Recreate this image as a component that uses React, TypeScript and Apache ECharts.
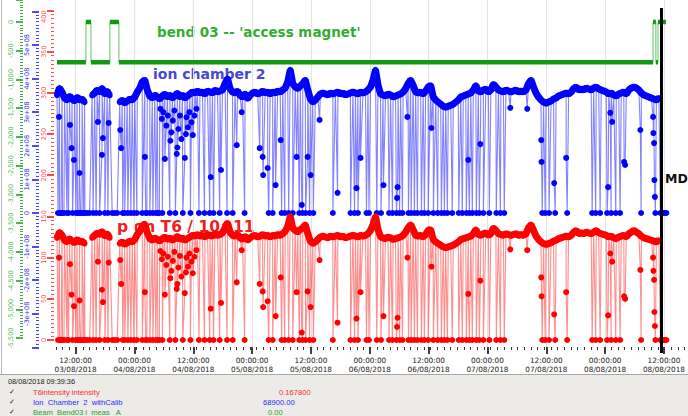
import React, { useEffect, useRef } from 'react';
import * as echarts from 'echarts';

// ---------- time axis (hours since 03/08/2018 00:00) ----------
const X_MIN_H = 8;
const X_MAX_H = 134;
const MINOR_TICK_H = 4 / 3;
const hourCategories: string[] = [];
for (let h = X_MIN_H; h <= X_MAX_H; h++) hourCategories.push(String(h));

// regular logger sampling of the beam band
const BAND_START_H = 8.2;
const BAND_STEP_H = 0.5;

// ion chamber 2 (units of 1e+08)
const ionChamberBand = [
  3.51, 3.72, 3.6, 3.42, 3.36, 3.48, 3.39, 3.33, 3.45, 3.36, 3.39, 3.3,
  0, 0,
  3.5, 3.57, 3.66, 3.6, 3.72, 3.54, 3.63, 3.5,
  0, 0, 0,
  3.3, 3.36, 3.27, 3.33, 3.39, 3.36, 3.45, 3.6, 3.72, 3.9, 3.96, 3.66,
  3.48, 3.42, 3.51, 3.45, 3.39, 3.48, 3.54, 3.45, 3.51, 3.42, 3.48, 3.57, 3.45, 3.51, 3.42, 3.48,
  3.54, 3.6, 3.57, 3.63, 3.57, 3.6, 3.54, 3.63, 3.6, 3.57, 3.66, 3.6, 3.63,
  3.66, 3.85, 4.0, 3.7,
  3.6, 3.57, 3.63, 3.5, 3.45, 3.55, 3.4, 3.5,
  3.57, 3.6, 3.54, 3.57, 3.63, 3.57, 3.6, 3.54, 3.6, 3.57, 3.63, 3.6, 3.66, 3.72,
  3.9, 4.26, 3.85,
  3.75, 3.7, 3.78, 3.85, 3.96,
  3.66, 3.4, 3.3, 3.36, 3.45,
  3.54, 3.57, 3.54, 3.51, 3.57, 3.54, 3.57, 3.6, 3.54, 3.57, 3.51, 3.54, 3.57, 3.6, 3.57, 3.54, 3.6, 3.57, 3.6, 3.66, 3.75,
  3.95, 4.26, 3.8,
  3.54, 3.51, 3.48, 3.54, 3.51, 3.45, 3.48, 3.51, 3.54, 3.6,
  3.7, 3.85, 3.96, 3.8, 3.6,
  3.57, 3.6, 3.54, 3.63, 3.75, 3.8,
  3.45, 3.36, 3.3, 3.24, 3.18, 3.15, 3.18, 3.21, 3.24, 3.3, 3.36,
  3.45, 3.48, 3.51, 3.54, 3.57,
  3.66, 3.8, 3.63, 3.6, 3.66, 3.69, 3.6, 3.66, 3.84, 3.75, 3.66,
  3.63, 3.6, 3.66, 3.63, 3.6, 3.63, 3.66, 3.6, 3.63, 3.6, 3.66,
  3.85, 3.96, 3.75,
  3.57, 3.45, 3.36, 3.3, 3.27, 3.3, 3.33, 3.39, 3.42, 3.48,
  3.51, 3.54, 3.57, 3.54, 3.6,
  3.7, 3.75, 3.66, 3.69,
  3.66, 3.72, 3.69, 3.66, 3.72, 3.75, 3.69, 3.66, 3.63,
  3.6, 3.54, 3.57, 3.51, 3.48, 3.54, 3.57, 3.6, 3.54,
  3.66, 3.72, 3.75, 3.72, 3.66,
  3.57, 3.51, 3.48, 3.45, 3.42, 3.39, 3.36, 3.42,
  0, 0, 0,
];

// p on T6 / 10^11
const pOnT6Band = [
  124, 131, 127, 121, 119, 123, 120, 118, 122, 119, 120, 117,
  0, 0,
  124, 127, 130, 128, 132, 126, 129, 124,
  0, 0, 0,
  117, 119, 116, 118, 120, 119, 122, 128, 132, 138, 141, 130,
  123, 121, 124, 122, 120, 123, 125, 122, 124, 121, 123, 126, 122, 124, 121, 123,
  125, 127, 126, 128, 126, 127, 125, 128, 127, 126, 129, 127, 128,
  130, 136, 142, 131,
  127, 126, 128, 124, 122, 126, 121, 124,
  126, 127, 125, 126, 128, 126, 127, 125, 127, 126, 128, 127, 129, 132,
  138, 150, 136,
  133, 131, 134, 136, 140,
  129, 120, 117, 119, 122,
  125, 126, 125, 124, 126, 125, 126, 127, 125, 126, 124, 125, 126, 127, 126, 125, 127, 126, 127, 129, 133,
  140, 150, 134,
  125, 124, 123, 125, 124, 122, 123, 124, 125, 127,
  131, 136, 140, 134, 127,
  126, 127, 125, 128, 133, 134,
  122, 119, 117, 115, 113, 112, 113, 114, 115, 117, 119,
  122, 123, 124, 125, 126,
  129, 134, 128, 127, 129, 130, 127, 129, 136, 133, 129,
  128, 127, 129, 128, 127, 128, 129, 127, 128, 127, 129,
  136, 140, 133,
  126, 122, 119, 117, 116, 117, 118, 120, 121, 123,
  124, 125, 126, 125, 127,
  131, 133, 129, 130,
  129, 131, 130, 129, 131, 133, 130, 129, 128,
  127, 125, 126, 124, 123, 125, 126, 127, 125,
  129, 131, 133, 131, 129,
  126, 124, 123, 122, 121, 120, 119, 121,
  0, 0, 0,
];

// times (h) where the beam dropped to zero
const beamOffTimes = [
  8.4, 8.7, 9.0, 9.3, 9.59, 10.19, 10.5, 11.3, 11.98, 12.3, 12.58, 12.9, 13.18, 13.5, 13.77,
  15.4, 16.0, 16.7, 17.75, 18.35, 21.3, 21.7, 22.33, 22.93, 23.53, 24.12, 25.2, 25.9,
  26.11, 26.71, 27.31, 27.9, 28.3, 28.6, 29.2, 30.69, 31.8, 33.28, 34.8, 36.5, 37.6, 38.65,
  39.4, 40.64, 42.1, 43.23, 45.6, 50.4, 51.2, 52.98, 53.6, 54.38, 55.2, 56.5,
  57.16, 57.76, 58.56, 59.3, 63.2, 66.72, 67.52, 68.2, 69.9, 70.4, 71.95, 72.8, 74.4, 75.08,
  75.87, 76.5, 77.07, 78.26, 78.8, 79.46, 80.06, 80.85, 81.45, 82.2, 83.24, 84.1, 84.83, 85.43,
  86.03, 87.0, 88.3, 89.01, 89.81, 90.41, 91.0, 91.8, 92.4, 93.2, 94.39, 95.78, 96.6, 97.37,
  104.94, 105.53, 106.3, 107.52, 109.91, 114.89, 115.6, 116.48, 117.87, 118.67, 119.6, 120.46,
  124.65, 127.5, 128.5, 128.9, 129.4,
];

// partial drops [h, value]
const ionChamberDrops = [
  [8.6, 2.86], [10.79, 2.62], [11.1, 1.93], [11.58, 1.58], [12.7, 1.19], [16.36, 2.71],
  [17.16, 1.73], [17.36, 2.23], [18.5, 2.68], [20.8, 2.47], [21.0, 1.93], [25.72, 1.67],
  [28.8, 3.1], [29.1, 2.8], [29.4, 3.0], [29.7, 1.61], [30.0, 2.6], [30.3, 2.9], [30.8, 2.15],
  [31.0, 2.4], [31.3, 2.75], [31.6, 3.05], [32.08, 1.76], [32.2, 1.95], [32.4, 2.5], [32.7, 2.9],
  [33.0, 2.2], [33.68, 1.64], [33.9, 2.35], [34.0, 2.85], [34.3, 2.55], [34.6, 3.0], [35.0, 2.7],
  [35.27, 2.32], [35.6, 2.9], [36.0, 3.1], [38.85, 1.07], [40.9, 1.28], [44.03, 2.02], [45.02, 3.0],
  [48.61, 1.93], [49.2, 1.67], [49.3, 1.13], [50.2, 1.34], [51.79, 0.83], [52.8, 2.17],
  [55.97, 1.67], [57.0, 0.24], [58.16, 1.67], [58.76, 1.13], [60.55, 2.77], [64.13, 0.6],
  [67.91, 0.74], [68.71, 1.64], [73.29, 0.83], [76.0, 0.45], [76.1, 0.77], [78.06, 2.86],
  [82.84, 2.53], [90.2, 1.58], [92.6, 2.05], [98.57, 3.13], [101.95, 3.1], [104.74, 2.17],
  [104.8, 1.52], [107.32, 0.89], [109.71, 1.64], [118.07, 0.77], [118.5, 2.98], [118.87, 2.71],
  [121.26, 1.52], [121.46, 1.43], [124.5, 2.47], [127.04, 2.86], [127.1, 2.38], [127.23, 2.08],
  [127.3, 0.98], [127.4, 0.48],
];

const pOnT6Drops = [
  [8.6, 100], [10.79, 92], [11.1, 55], [11.58, 41], [12.7, 48], [16.36, 95],
  [17.16, 61], [17.36, 46], [18.5, 94], [20.8, 97], [21.0, 68], [25.72, 58],
  [28.8, 108], [29.1, 98], [29.4, 105], [29.7, 55], [30.0, 91], [30.3, 101], [30.8, 75],
  [31.0, 84], [31.3, 96], [31.6, 107], [32.08, 62], [32.2, 68], [32.4, 88], [32.7, 102],
  [33.0, 77], [33.68, 57], [33.9, 82], [34.0, 100], [34.3, 89], [34.6, 105], [35.0, 95],
  [35.27, 81], [35.6, 101], [36.0, 109], [38.85, 38], [40.9, 45], [44.03, 70], [45.02, 109],
  [48.61, 68], [49.2, 59], [49.3, 40], [50.2, 47], [51.79, 29], [52.8, 76],
  [55.97, 58], [57.0, 9], [58.16, 59], [58.76, 40], [60.55, 97], [64.13, 21],
  [67.91, 26], [68.71, 58], [73.29, 29], [76.0, 16], [76.1, 27], [78.06, 100],
  [82.84, 89], [90.2, 56], [92.6, 72], [98.57, 110], [101.95, 109], [104.74, 76],
  [104.8, 53], [107.32, 31], [109.71, 58], [118.07, 30], [118.5, 105], [118.87, 95],
  [121.26, 53], [121.46, 50], [124.5, 85], [127.04, 100], [127.1, 84], [127.23, 73],
  [127.3, 34], [127.4, 17],
];

// bend 03 'access magnet' current
const bend03Points = [
  [8.2, -700], [13.97, -700], [13.97, 0], [14.97, 0], [14.97, -700], [18.75, -700],
  [18.75, 0], [20.54, 0], [20.54, -700], [127.03, -700], [127.03, 0], [127.6, 0],
  [127.6, -700], [128.02, -700], [128.02, 0], [129.62, 0],
];

const MD_HOUR = 128.7;

// axis ranges
const GREEN_MIN = -5500, GREEN_MAX = 383, GREEN_STEP = 500;
const BLUE_MIN = -4, BLUE_MAX = 6, BLUE_STEP = 1;
const RED_MIN = 0, RED_MAX = 400, RED_STEP = 50;

// cursor read-out panel
const cursorTime = '08/08/2018 09:39:36';
const legendNames = ['T6intensity intensity', 'Ion  Chamber  2  withCalib', 'Beam_Bend03 i_meas   A'];
const legendValues = ['0.167800', '68900.00', '0.00'];
const legendColors = ['#ff2a2a', '#2a2aff', '#2aa02a'];
const legendValueX = [279, 263, 268];

function buildSeries(band: number[], drops: number[][]) {
  const pts: number[][] = band.map((v, i) => [BAND_START_H + i * BAND_STEP_H, v]);
  beamOffTimes.forEach((t) => pts.push([t, 0]));
  drops.forEach((p) => pts.push([p[0], p[1]]));
  return pts.sort((a, b) => a[0] - b[0]);
}

function bandOnly(band: number[]) {
  return band.map((v, i) => [BAND_START_H + i * BAND_STEP_H, v === 0 ? '-' : v]);
}

function flatSegments(points: number[][]) {
  const out: any[] = [];
  for (let i = 0; i < points.length; i++) {
    out.push(points[i]);
    const n = points[i + 1];
    if (n && n[1] !== points[i][1]) out.push([points[i][0], '-']);
  }
  return out;
}

const pad = (n: number) => (n < 10 ? '0' + n : String(n));
const isMajor = (_i: number, v: any) => Number(v) % 12 === 0;

const GL = 56, GW = 633;

export default function App() {
  const ref = useRef<HTMLDivElement>(null);
  useEffect(() => {
    document.body.style.margin = '0';
    const chart = echarts.init(ref.current!, undefined, { renderer: 'svg' });
    const hiddenX = (g: number) => ({ type: 'value', gridIndex: g, min: X_MIN_H, max: X_MAX_H, show: false });
    const hiddenY = (g: number) => ({ type: 'value', gridIndex: g, min: 0, max: 1, show: false });
    const ionData = buildSeries(ionChamberBand, ionChamberDrops);
    const pData = buildSeries(pOnT6Band, pOnT6Drops);
    const option: any = {
      animation: false,
      textStyle: { fontFamily: 'DejaVu Sans' },
      grid: [
        { left: GL, width: GW, top: 0, height: 347 },
        { left: GL, width: GW, top: 0, height: 347 },
        { left: GL, width: GW, top: 0, height: 338 },
        { left: GL, width: GW, top: 11.4, height: 336 },
        { left: GL, width: GW, top: 10.4, height: 329.6 },
        { left: GL, width: GW, top: 8, height: 345 },
      ],
      xAxis: [
        {
          type: 'category', gridIndex: 0, data: hourCategories, boundaryGap: false,
          axisLine: { show: false },
          axisTick: { show: true, interval: isMajor, length: 7, lineStyle: { color: '#000', width: 1.5 } },
          axisLabel: {
            interval: isMajor, fontSize: 7.3, color: '#1a1a1a', lineHeight: 9, margin: 9,
            formatter: (v: string) => {
              const h = Number(v);
              return `${pad(h % 24)}:00:00\n${pad(3 + Math.floor(h / 24))}/08/2018`;
            },
          },
          splitLine: { show: true, interval: isMajor, lineStyle: { color: '#e3e3e3', width: 1 } },
        },
        {
          type: 'value', gridIndex: 1, min: X_MIN_H, max: X_MAX_H, interval: MINOR_TICK_H,
          axisLine: { show: false },
          axisTick: { show: true, length: 3, lineStyle: { color: '#333', width: 1 } },
          axisLabel: { show: false }, splitLine: { show: false },
        },
        hiddenX(2), hiddenX(3), hiddenX(4), hiddenX(5),
      ],
      yAxis: [
        hiddenY(0), hiddenY(1),
        {
          type: 'value', gridIndex: 2, position: 'left', offset: 33,
          min: GREEN_MIN, max: GREEN_MAX, interval: GREEN_STEP,
          axisLine: { show: false },
          axisTick: { show: true, length: 7, lineStyle: { color: '#169a16', width: 1.5 } },
          minorTick: { show: true, splitNumber: 10, length: 3, lineStyle: { color: '#40ad40' } },
          axisLabel: { rotate: 90, fontSize: 6.5, color: '#4cb84c', margin: 9, showMaxLabel: false },
          splitLine: { show: false },
        },
        {
          type: 'value', gridIndex: 3, position: 'left', offset: 17,
          min: BLUE_MIN, max: BLUE_MAX, interval: BLUE_STEP,
          axisLine: { show: false },
          axisTick: { show: true, length: 7, lineStyle: { color: '#1010ee', width: 1.5 } },
          minorTick: { show: true, splitNumber: 10, length: 3, lineStyle: { color: '#4040ff' } },
          axisLabel: {
            rotate: 90, fontSize: 6.5, color: '#2a2aff', margin: 8.5, showMaxLabel: false,
            alignMinLabel: 'left',
            formatter: (v: number) => (v === 0 ? '0' : `${v}e+08`),
          },
          splitLine: { show: false },
        },
        {
          type: 'value', gridIndex: 4, position: 'left', offset: 2,
          min: RED_MIN, max: RED_MAX, interval: RED_STEP,
          axisLine: { show: false },
          axisTick: { show: true, length: 7, lineStyle: { color: '#ee1010', width: 1.5 } },
          minorTick: { show: true, splitNumber: 10, length: 3, lineStyle: { color: '#ff5050' } },
          axisLabel: { rotate: 90, fontSize: 6.5, color: '#ff4a4a', margin: 6.5, alignMaxLabel: 'right' },
          splitLine: { show: false },
        },
        hiddenY(5),
      ],
      series: [
        {
          type: 'line', xAxisIndex: 3, yAxisIndex: 3, data: bandOnly(ionChamberBand), clip: false,
          showSymbol: false, connectNulls: false,
          lineStyle: { color: '#0000ff', width: 7 }, z: 2,
        },
        {
          type: 'line', xAxisIndex: 3, yAxisIndex: 3, data: ionData, clip: false,
          symbol: 'circle', symbolSize: 6, showAllSymbol: true,
          itemStyle: { color: '#0000ff' },
          lineStyle: { color: 'rgba(30,30,255,0.55)', width: 1.1 },
          z: 2,
        },
        {
          type: 'line', xAxisIndex: 4, yAxisIndex: 4, data: bandOnly(pOnT6Band), clip: false,
          showSymbol: false, connectNulls: false,
          lineStyle: { color: '#ff0000', width: 7 }, z: 3,
        },
        {
          type: 'line', xAxisIndex: 4, yAxisIndex: 4, data: pData, clip: false,
          symbol: 'circle', symbolSize: 6, showAllSymbol: true,
          itemStyle: { color: '#ff0000' },
          lineStyle: { color: 'rgba(255,30,30,0.5)', width: 1.1 },
          z: 3,
        },
        {
          type: 'line', xAxisIndex: 2, yAxisIndex: 2, data: bend03Points, clip: false,
          showSymbol: false, lineStyle: { color: '#62c462', width: 1 }, z: 4,
        },
        {
          type: 'line', xAxisIndex: 2, yAxisIndex: 2, data: flatSegments(bend03Points), clip: false,
          showSymbol: false, connectNulls: false, lineStyle: { color: '#129912', width: 4.5 }, z: 4,
        },
        {
          type: 'line', xAxisIndex: 5, yAxisIndex: 5, data: [],
          markLine: {
            silent: true, symbol: ['none', 'none'], label: { show: false },
            lineStyle: { color: '#000', width: 3, type: 'solid' },
            data: [{ xAxis: MD_HOUR }],
          },
          z: 6,
        },
      ],
      graphic: [
        { type: 'rect', silent: true, shape: { x: 0, y: 374, width: 688, height: 42 }, style: { fill: '#ecebe7' } },
        { type: 'line', silent: true, shape: { x1: 0, y1: 374.5, x2: 688, y2: 374.5 }, style: { stroke: '#a8a8a8', lineWidth: 1 } },
        { type: 'line', silent: true, shape: { x1: 1.5, y1: 0, x2: 1.5, y2: 374 }, style: { stroke: '#b8b8b8', lineWidth: 1 } },
        { type: 'text', x: 157, y: 32, style: { text: "bend 03 -- 'access magnet'", font: 'bold 13.5px "DejaVu Sans"', fill: '#34ad34', textVerticalAlign: 'middle', verticalAlign: 'middle' } },
        { type: 'text', x: 153, y: 74, style: { text: 'ion chamber 2', font: 'bold 14px "DejaVu Sans"', fill: '#4848d2', textVerticalAlign: 'middle', verticalAlign: 'middle' } },
        { type: 'text', x: 117, y: 227, style: { text: 'p on T6 / 10^11', font: 'bold 15.5px "DejaVu Sans"', fill: '#ee2020', textVerticalAlign: 'middle', verticalAlign: 'middle' } },
        { type: 'text', x: 665, y: 178, style: { text: 'MD', font: 'bold 12.5px "DejaVu Sans"', fill: '#111', textVerticalAlign: 'middle', verticalAlign: 'middle' } },
        { type: 'text', x: 8, y: 381, style: { text: cursorTime, font: '7.3px "Liberation Sans"', fill: '#222', textVerticalAlign: 'middle', verticalAlign: 'middle' } },
        ...legendNames.flatMap((name, i) => [
          { type: 'text', x: 9, y: 392 + i * 10, style: { text: '✓', font: '7px "DejaVu Sans"', fill: '#222', textVerticalAlign: 'middle', verticalAlign: 'middle' } },
          { type: 'text', x: 33, y: 392 + i * 10, style: { text: name, font: '7.6px "Liberation Sans"', fill: legendColors[i], textVerticalAlign: 'middle', verticalAlign: 'middle' } },
          { type: 'text', x: legendValueX[i], y: 392 + i * 10, style: { text: legendValues[i], font: '7.6px "Liberation Sans"', fill: legendColors[i], textVerticalAlign: 'middle', verticalAlign: 'middle' } },
        ]),
      ],
    };
    chart.setOption(option);
    return () => chart.dispose();
  }, []);
  return <div ref={ref} style={{ width: 688, height: 416 }} />;
}
